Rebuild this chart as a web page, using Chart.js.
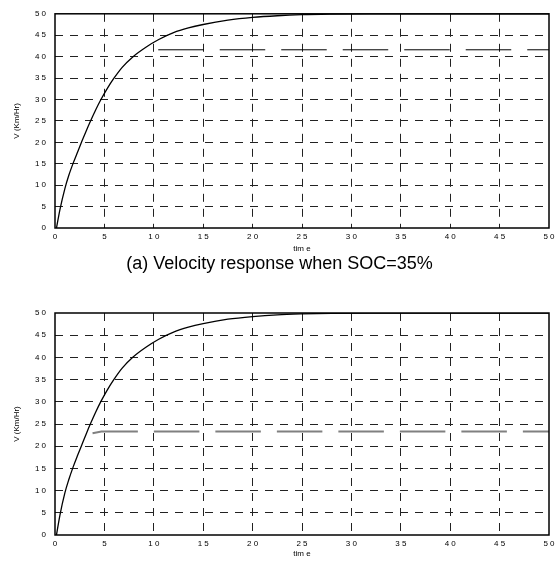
<!DOCTYPE html>
<html>
<head>
<meta charset="utf-8">
<script src="https://cdn.jsdelivr.net/npm/chart.js@4/dist/chart.umd.min.js"></script>
<style>
  body { margin: 0; background: #fff; width: 559px; height: 561px; position: relative; overflow: hidden; }
  canvas { position: absolute; left: 0; }
  #chartA { top: 0; }
  #chartB { top: 290px; }
  #caption { position: absolute; top: 253px; left: 0; width: 559px; text-align: center;
             font-family: "Liberation Sans", Arial, sans-serif; font-size: 18px; color: #000; }
</style>
</head>
<body>
<canvas id="chartA" width="559" height="256"></canvas>
<div id="caption">(a) Velocity response when SOC=35%</div>
<canvas id="chartB" width="559" height="271"></canvas>
<script>
// time (s) and velocity readings (Km/Hr) taken off the two plots
const time = [0.15, 0.5, 1.0, 1.4, 1.85, 2.3, 2.75, 3.2, 3.62, 4.1, 4.65, 5.3, 5.95, 6.8, 7.9, 9.2, 10.5, 12, 13.5, 15, 17.5, 20, 22.5, 25, 28, 32, 40, 50];
const speedA = [0, 4.3, 9.2, 12.3, 15.2, 17.8, 20.4, 22.9, 25.1, 27.5, 30, 32.6, 34.9, 37.5, 40, 42.2, 44, 45.6, 46.7, 47.5, 48.5, 49.15, 49.55, 49.8, 49.93, 50, 50, 50];
const speedB = [0, 4.5, 9.5, 12.5, 15.4, 18, 20.5, 23, 25.2, 27.6, 30.1, 32.7, 35, 37.6, 40.1, 42.3, 44.1, 45.7, 46.8, 47.6, 48.6, 49.2, 49.6, 49.8, 49.93, 50, 50, 50];

// the long-dashed level line in each plot
const refTimeA = [10.45, 50];
const refSpeedA = [41.6, 41.6];
const refTimeB = [3.8, 4.7, 50];
const refSpeedB = [22.9, 23.3, 23.3];

const xTicks = [0, 5, 10, 15, 20, 25, 30, 35, 40, 45, 50];
const yTicks = [0, 5, 10, 15, 20, 25, 30, 35, 40, 45, 50];

const FONT = '"Liberation Sans", Arial, sans-serif';

// digits were printed with gaps between them ("5 0")
const spaced = v => String(v).split('').join(' ');

// solid box round the plot area
const frame = {
    id: 'frame',
    afterDraw(chart) {
        const { ctx, chartArea: a } = chart;
        ctx.save();
        ctx.strokeStyle = '#000';
        ctx.lineWidth = 1.5;
        ctx.strokeRect(a.left, a.top, a.right - a.left, a.bottom - a.top);
        ctx.restore();
    }
};

const hideEdges = c => (c.tick && (c.tick.value === 0 || c.tick.value === 50)) ? 'rgba(0,0,0,0)' : '#222';

function makeChart(id, speed, refTime, refSpeed, refColor, refWidth, pad) {
    const pts = (xs, ys) => xs.map((x, i) => ({ x: x, y: ys[i] }));
    return new Chart(document.getElementById(id), {
        type: 'line',
        data: {
            datasets: [
                {
                    data: pts(refTime, refSpeed),
                    borderColor: refColor,
                    borderWidth: refWidth,
                    borderDash: [45.5, 16],
                    pointRadius: 0,
                    tension: 0
                },
                {
                    data: pts(time, speed),
                    borderColor: '#000',
                    borderWidth: 1.3,
                    pointRadius: 0,
                    cubicInterpolationMode: 'monotone'
                }
            ]
        },
        options: {
            responsive: false,
            animation: false,
            layout: { padding: { top: pad.top, right: 10, left: 0, bottom: 0 } },
            plugins: { legend: { display: false }, tooltip: { enabled: false } },
            scales: {
                x: {
                    type: 'linear',
                    min: 0,
                    max: 50,
                    afterBuildTicks: s => { s.ticks = xTicks.map(v => ({ value: v })); },
                    afterFit: s => { s.height = pad.xh; },
                    grid: { drawTicks: false, color: hideEdges, lineWidth: 1 },
                    border: { display: false, dash: [8, 7] },
                    ticks: { color: '#000', padding: 4, maxRotation: 0, font: { family: FONT, size: 8 }, callback: v => spaced(v) },
                    title: { display: true, text: 'tim e', color: '#000', font: { family: FONT, size: 8 }, padding: { top: 0, bottom: 2 } }
                },
                y: {
                    min: 0,
                    max: 50,
                    afterBuildTicks: s => { s.ticks = yTicks.map(v => ({ value: v })); },
                    afterFit: s => { s.width = 55; },
                    grid: { drawTicks: false, color: hideEdges, lineWidth: 1 },
                    border: { display: false, dash: [8, 7] },
                    ticks: { color: '#000', padding: 9, font: { family: FONT, size: 8 }, callback: v => spaced(v) },
                    title: { display: true, text: 'V (Km/Hr)', color: '#000', font: { family: FONT, size: 8 }, padding: { top: 12, bottom: 0 } }
                }
            }
        },
        plugins: [frame]
    });
}

makeChart('chartA', speedA, refTimeA, refSpeedA, '#000', 1, { top: 12, xh: 28 });
makeChart('chartB', speedB, refTimeB, refSpeedB, '#808080', 2, { top: 23, xh: 26 });
</script>
</body>
</html>
